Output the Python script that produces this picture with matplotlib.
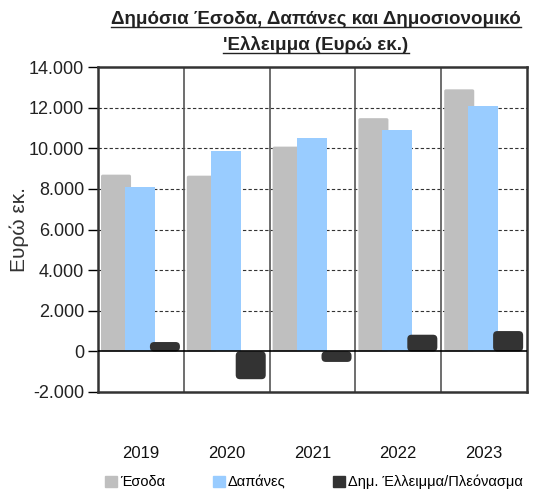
import numpy as np
import matplotlib
matplotlib.use("Agg")
import matplotlib.pyplot as plt
from matplotlib.patches import Patch, FancyBboxPatch

plt.rcParams['font.family'] = ['Liberation Sans', 'DejaVu Sans']

years = ['2019', '2020', '2021', '2022', '2023']
esoda = [8700, 8650, 10080, 11480, 12900]
dapanes = [8100, 9870, 10500, 10900, 12080]
elleimma = [460, -1370, -520, 820, 1000]
yticks = [-2000, 0, 2000, 4000, 6000, 8000, 10000, 12000, 14000]
ytick_labels = ['-2.000', '0', '2.000', '4.000', '6.000', '8.000', '10.000', '12.000', '14.000']

fig = plt.figure(figsize=(5.38, 4.91), dpi=100)
ax = fig.add_axes([98 / 538, 1 - 392 / 491, 429 / 538, 325 / 491])
ax.set_xlim(-0.5, len(years) - 0.5)
ax.set_ylim(-2000, 14000)

# aspect so rounded corners look round in pixels
asp = (16000 / 325) / (5 / 429)

x = np.arange(len(years))
w = 0.35
series = [(esoda, -0.29, '#BFBFBF', 3, 0.02),
          (dapanes, -0.01, '#99CCFF', 3, 0.0),
          (elleimma, 0.28, '#333333', 4, 0.05)]
for vals, off, col, z, rs in series:
    bars = ax.bar(x + off, vals, w, color=col, zorder=z)
    if rs > 0:
        for b, v in zip(bars, vals):
            b.set_visible(False)
            ax.add_patch(FancyBboxPatch((b.get_x(), min(0, v)), b.get_width(), abs(v),
                                        boxstyle=f"round,pad=0,rounding_size={rs}",
                                        mutation_aspect=asp, color=col, zorder=z, lw=0))

ax.set_yticks(yticks)
ax.set_yticklabels(ytick_labels, fontsize=13, color='#222222')
for v in yticks[2:-1]:
    ax.axhline(v, color='#333333', lw=0.8, ls=(0, (3, 2)), zorder=1)
ax.axhline(0, color='black', lw=1.2, zorder=5)
for b in np.arange(0.5, len(years) - 0.5, 1):
    ax.axvline(b, color='#555555', lw=1.2, zorder=2)

ax.set_xticks(x)
ax.set_xticklabels(years, fontsize=12, color='#111111')
ax.tick_params(axis='x', length=0, pad=39)
ax.tick_params(axis='y', length=7, width=1, direction='out', pad=3)
for s in ax.spines.values():
    s.set_linewidth(1.8)
    s.set_color('#333333')

ax.set_ylabel('Ευρώ εκ.', fontsize=15, color='#333333', labelpad=0)

t1 = fig.text(316 / 538, 1 - 19 / 491, 'Δημόσια Έσοδα, Δαπάνες και Δημοσιονομικό',
              ha='center', va='center', fontsize=13.5, fontweight='bold', color='#222222')
t2 = fig.text(316 / 538, 1 - 45 / 491, '\'Ελλειμμα (Ευρώ εκ.)',
              ha='center', va='center', fontsize=13.5, fontweight='bold', color='#222222')

fig.canvas.draw()
r = fig.canvas.get_renderer()
for t in (t1, t2):
    bb = t.get_window_extent(r).transformed(fig.transFigure.inverted())
    fig.add_artist(plt.Line2D([bb.x0, bb.x1], [bb.y0 + 0.002, bb.y0 + 0.002],
                              transform=fig.transFigure, color='#222222', lw=1))

handles = [Patch(color='#BFBFBF'), Patch(color='#99CCFF'), Patch(color='#333333')]
fig.legend(handles, ['Έσοδα', 'Δαπάνες', 'Δημ. Έλλειμμα/Πλεόνασμα'],
           loc='center', bbox_to_anchor=(314 / 538, 1 - 482 / 491), ncol=3,
           frameon=False, fontsize=10.5, handlelength=0.8, handleheight=0.8,
           handletextpad=0.2, columnspacing=3.3)

fig.savefig('out.png', dpi=100)
